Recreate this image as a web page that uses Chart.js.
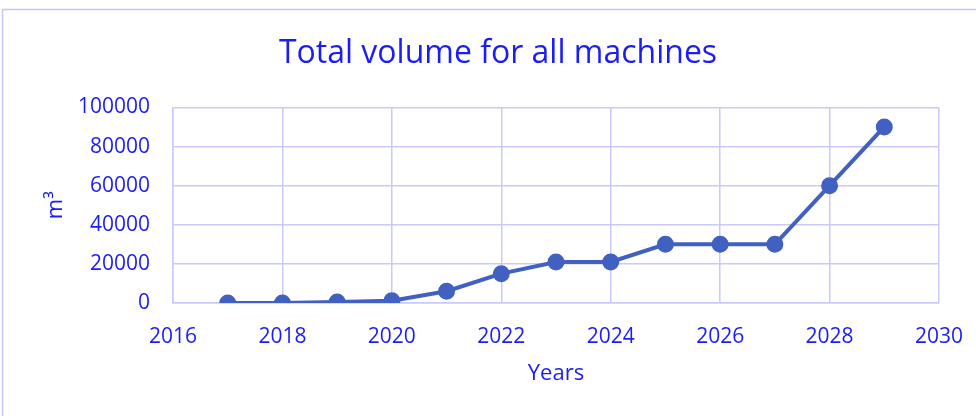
<!DOCTYPE html>
<html>
<head>
<meta charset="utf-8">
<title>Total volume for all machines</title>
<script src="https://cdn.jsdelivr.net/npm/chart.js@4/dist/chart.umd.min.js"></script>
<style>
  html, body { margin: 0; padding: 0; background: #fff; }
  .wrap { width: 976px; height: 416px; position: relative; }
</style>
</head>
<body>
<div class="wrap"><canvas id="volumeChart" width="976" height="416"></canvas></div>
<script>
// yearly totals (m³)
const years = [2017, 2018, 2019, 2020, 2021, 2022, 2023, 2024, 2025, 2026, 2027, 2028, 2029];
const volumes = [0, 0, 500, 1200, 6000, 15000, 21000, 21000, 30000, 30000, 30000, 60000, 90000];
const xTicks = [2016, 2018, 2020, 2022, 2024, 2026, 2028, 2030];
const yTicks = [0, 20000, 40000, 60000, 80000, 100000];

const textBlue = '#1c1cf5';
const lineBlue = '#4161c2';
const gridBlue = '#c9c9fb';
const fontFamily = '"Open Sans", "Noto Sans", sans-serif';

// light frame around the whole chart
const frame = {
  id: 'frame',
  beforeDraw(chart) {
    const c = chart.ctx;
    c.save();
    c.fillStyle = '#fff';
    c.fillRect(0, 0, chart.width, chart.height);
    c.strokeStyle = '#c6c6f6';
    c.lineWidth = 1.5;
    c.strokeRect(2.5, 9.5, chart.width + 20, chart.height + 20);
    c.restore();
  }
};

const ctx = document.getElementById('volumeChart').getContext('2d');
new Chart(ctx, {
  type: 'line',
  data: {
    datasets: [{
      label: 'Total volume',
      data: years.map((y, i) => ({ x: y, y: volumes[i] })),
      borderColor: lineBlue,
      backgroundColor: lineBlue,
      borderWidth: 4,
      pointRadius: 6.5,
      pointHoverRadius: 6.5,
      tension: 0
    }]
  },
  options: {
    responsive: false,
    animation: false,
    layout: { padding: { left: 20, right: 0, top: 0, bottom: 0 } },
    plugins: {
      legend: { display: false },
      tooltip: { enabled: false },
      title: {
        display: true,
        text: 'Total volume for all machines',
        color: textBlue,
        font: { family: fontFamily, size: 32, weight: 'normal', lineHeight: 1.2 },
        padding: { top: 35, bottom: 34 }
      }
    },
    scales: {
      x: {
        type: 'linear',
        min: xTicks[0],
        max: xTicks[xTicks.length - 1],
        afterBuildTicks(scale) { scale.ticks = xTicks.map(v => ({ value: v })); },
        afterFit(scale) {
          scale.height = 113;
          scale.paddingRight = 37;
        },
        ticks: {
          color: textBlue,
          padding: 21,
          maxRotation: 0,
          font: { family: fontFamily, size: 21 },
          callback: v => String(v)
        },
        grid: { color: gridBlue, lineWidth: 1.5, drawTicks: false },
        border: { color: gridBlue, width: 1.5 },
        title: {
          display: true,
          text: 'Years',
          color: textBlue,
          font: { family: fontFamily, size: 22 },
          padding: { top: 0, bottom: 29 }
        }
      },
      y: {
        min: yTicks[0],
        max: yTicks[yTicks.length - 1],
        afterBuildTicks(scale) { scale.ticks = yTicks.map(v => ({ value: v })); },
        afterFit(scale) { scale.width = 153; },
        ticks: {
          color: textBlue,
          padding: 23,
          font: { family: fontFamily, size: 21 },
          callback: v => String(v)
        },
        grid: { color: gridBlue, lineWidth: 1.5, drawTicks: false },
        border: { color: gridBlue, width: 1.5 },
        title: {
          display: true,
          text: 'm³',
          color: textBlue,
          font: { family: fontFamily, size: 22 },
          padding: { top: 23, bottom: 0 }
        }
      }
    }
  },
  plugins: [frame]
});
</script>
</body>
</html>
